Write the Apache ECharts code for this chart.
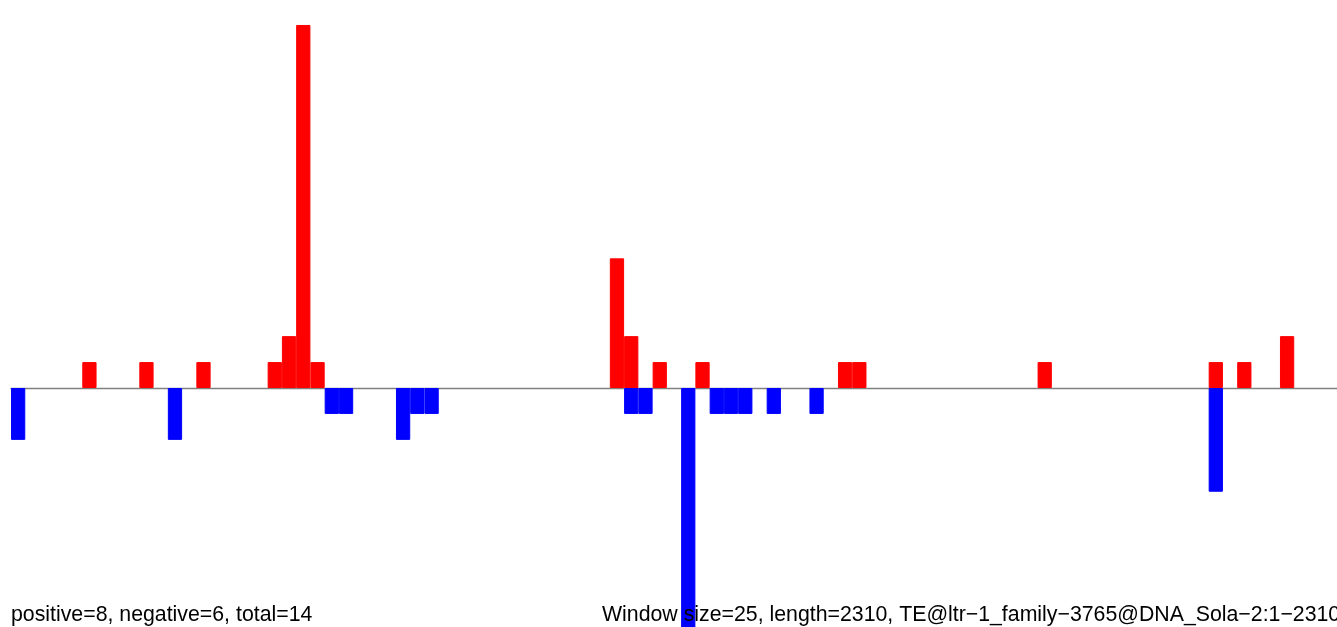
<!DOCTYPE html>
<html>
<head>
<meta charset="utf-8">
<script src="https://cdn.jsdelivr.net/npm/echarts@6/dist/echarts.min.js"></script>
<style>
html,body{margin:0;padding:0;background:#fff;}
#chart{width:1337px;height:627px;}
</style>
</head>
<body>
<div id="chart"></div>
<script>
// Window index (25 bp windows over length 2310 -> 93 windows)
const windowCount = 93;
const windows = Array.from({length: windowCount}, (_, i) => String(i * 25 + 1));
// Positive counts per window (index -> value)
const positiveIdx = [5, 9, 13, 18, 19, 20, 21, 42, 43, 45, 48, 58, 59, 72, 84, 86, 89];
const positiveVal = [1, 1, 1, 1, 2, 14, 1, 5, 2, 1, 1, 1, 1, 1, 1, 1, 2];
// Negative counts per window
const negativeIdx = [0, 11, 22, 23, 27, 28, 29, 43, 44, 47, 49, 50, 51, 53, 56, 84];
const negativeVal = [-2, -2, -1, -1, -2, -1, -1, -1, -1, -10, -1, -1, -1, -1, -1, -4];
const leftNote = 'positive=8, negative=6, total=14';
const rightNote = 'Window size=25, length=2310, TE@ltr\u22121_family\u22123765@DNA_Sola\u22122:1\u22122310';

const posData = new Array(windowCount).fill(null);
positiveIdx.forEach((k, j) => posData[k] = positiveVal[j]);
const negData = new Array(windowCount).fill(null);
negativeIdx.forEach((k, j) => negData[k] = negativeVal[j]);

const chart = echarts.init(document.getElementById('chart'), null, {renderer: 'canvas'});
const unit = 25.93;
const yMax = 14;
const yMin = -(627 - 388) / unit;
chart.setOption({
  animation: false,
  backgroundColor: '#ffffff',
  grid: {left: 11, width: 93 * 14.29, top: 388 - yMax * unit, bottom: 0, containLabel: false},
  xAxis: {
    type: 'category', data: windows, boundaryGap: true,
    axisLine: {onZero: true, lineStyle: {color: '#808080', width: 1.3}},
    axisTick: {show: false}, axisLabel: {show: false}, splitLine: {show: false}
  },
  yAxis: {
    type: 'value', min: yMin, max: yMax,
    axisLine: {show: false}, axisTick: {show: false}, axisLabel: {show: false}, splitLine: {show: false}
  },
  series: [
    {type: 'bar', name: 'positive', stack: 's', data: posData, barCategoryGap: '0%', barGap: '0%',
     itemStyle: {color: '#ff0000', borderColor: '#ff0000', borderWidth: 1}, z: 2},
    {type: 'bar', name: 'negative', stack: 's', data: negData, barCategoryGap: '0%', barGap: '0%',
     itemStyle: {color: '#0000ff', borderColor: '#0000ff', borderWidth: 1}, z: 2}
  ],
  graphic: [
    {type: 'text', left: 11, top: 605, z: 100,
     style: {text: leftNote, font: '21.3px "Liberation Sans", Arial, sans-serif', fill: '#000'}},
    {type: 'text', left: 602, top: 605, z: 100,
     style: {text: rightNote, font: '21.3px "Liberation Sans", Arial, sans-serif', fill: '#000'}}
  ]
});
</script>
</body>
</html>
